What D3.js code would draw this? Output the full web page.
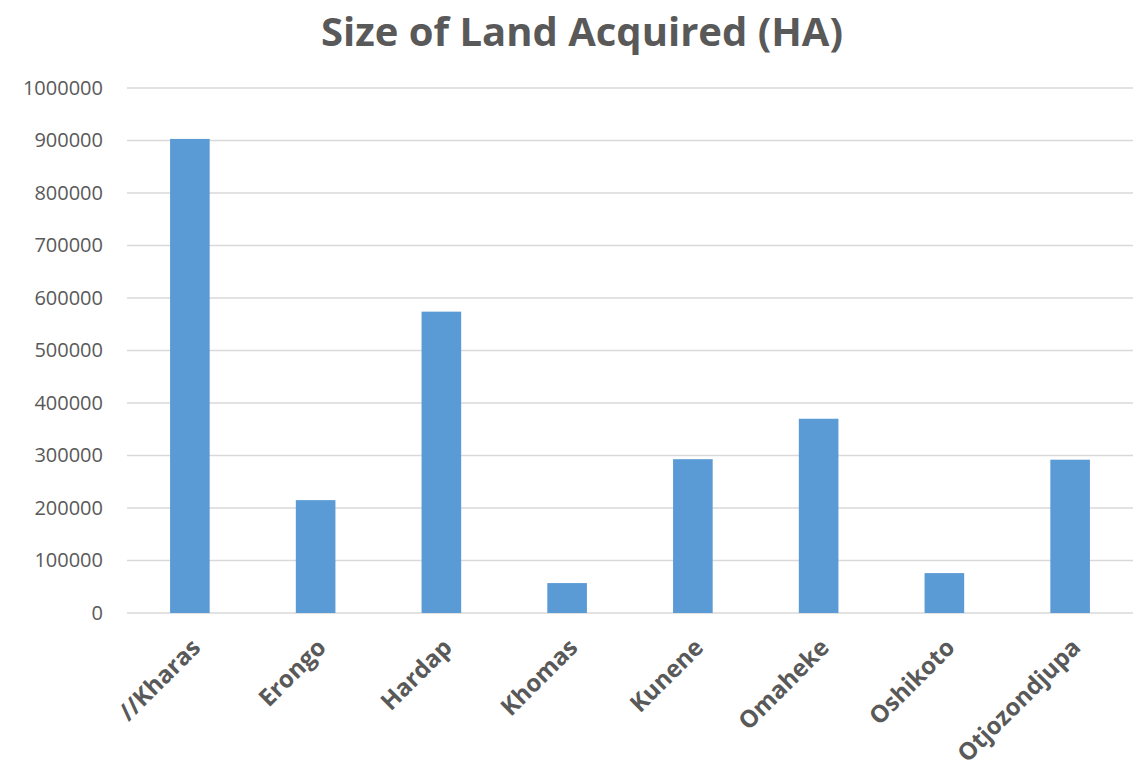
<!DOCTYPE html>
<html>
<head>
<meta charset="utf-8">
<script src="https://cdn.jsdelivr.net/npm/d3@7"></script>
<style>
  body { margin: 0; background: #ffffff; }
  text { font-family: "Open Sans", "Liberation Sans", sans-serif; }
</style>
</head>
<body>
<svg id="chart"></svg>
<script>
// data
var regions = ["//Kharas", "Erongo", "Hardap", "Khomas", "Kunene", "Omaheke", "Oshikoto", "Otjozondjupa"]
var hectares = [903000, 215000, 574000, 57000, 293000, 370000, 76000, 292000]
var yTicks = [0, 100000, 200000, 300000, 400000, 500000, 600000, 700000, 800000, 900000, 1000000]

var width = 1139, height = 780
var margin = {top: 88, right: 6, bottom: 167, left: 127}
var _width = width - margin.left - margin.right,
    _height = height - margin.top - margin.bottom

var svg = d3.select("#chart")
    .attr("width", width)
    .attr("height", height)

svg.append("text")
    .attr("x", 582)
    .attr("y", 46)
    .attr("text-anchor", "middle")
    .attr("font-size", "40px")
    .attr("font-weight", "bold")
    .style("fill", "#595959")
    .text("Size of Land Acquired (HA)")

var g = svg.append("g")
    .attr("transform", "translate(" + margin.left + "," + margin.top + ")")

var x = d3.scaleBand()
    .domain(regions)
    .range([0, _width])
    .paddingInner(0.685)
    .paddingOuter(0.3425)

var y = d3.scaleLinear()
    .domain([0, 1000000])
    .range([_height, 0])

// gridlines
g.selectAll(".grid")
    .data(yTicks)
    .enter()
    .append("line")
      .attr("x1", 0)
      .attr("x2", _width)
      .attr("y1", function(d){ return y(d) })
      .attr("y2", function(d){ return y(d) })
      .attr("stroke", "#d9d9d9")
      .attr("stroke-width", 1.5)

// y axis labels
var yAxis = g.append("g")
    .call(d3.axisLeft(y).tickValues(yTicks).tickFormat(d3.format("d")).tickSize(0).tickPadding(24))
yAxis.select(".domain").remove()
yAxis.selectAll("text")
    .attr("font-size", "20px")
    .style("fill", "#595959")
    .style("font-family", "'Open Sans', sans-serif")

// bars
g.selectAll(".bar")
    .data(regions)
    .enter()
    .append("rect")
      .attr("x", function(d){ return x(d) })
      .attr("y", function(d, i){ return y(hectares[i]) })
      .attr("width", x.bandwidth())
      .attr("height", function(d, i){ return _height - y(hectares[i]) })
      .attr("fill", "#5b9bd5")

// x labels
var xAxis = g.append("g")
    .attr("transform", "translate(0," + _height + ")")
    .call(d3.axisBottom(x).tickSize(0).tickPadding(0))
xAxis.select(".domain").remove()
xAxis.selectAll("text")
    .attr("text-anchor", "end")
    .attr("font-size", "24px")
    .attr("font-weight", "bold")
    .style("fill", "#595959")
    .style("font-family", "'Open Sans', sans-serif")
    .attr("dy", null)
    .attr("y", 0)
    .attr("transform", "translate(12,36) rotate(-45)")
</script>
</body>
</html>
